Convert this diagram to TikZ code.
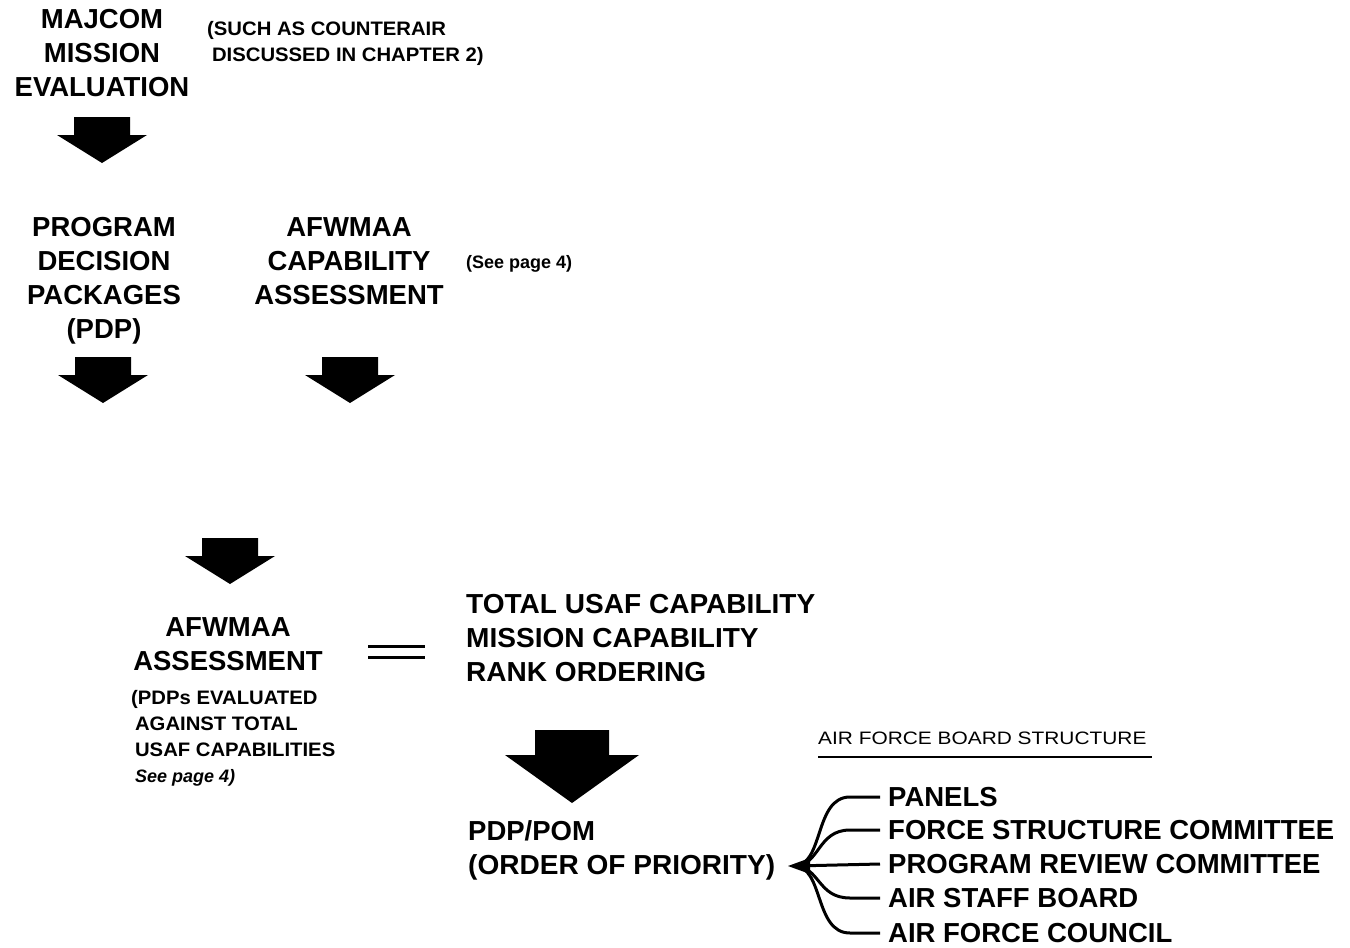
\documentclass[tikz,border=0pt]{standalone}
\usepackage{fontspec}
\setmainfont{Liberation Sans}
\begin{document}
\begin{tikzpicture}[x=1pt,y=-1pt,
  big/.style={font=\fontsize{27.5}{34}\selectfont\bfseries, inner sep=0pt, align=center, anchor=north},
  bigl/.style={big, align=left, anchor=north west},
  small/.style={font=\fontsize{19.5}{26}\selectfont\bfseries, inner sep=0pt, align=left, anchor=north west},
  note/.style={font=\fontsize{18}{22}\selectfont\bfseries, inner sep=0pt},
  item/.style={font=\fontsize{27.5}{34}\selectfont\bfseries, inner ysep=0pt, inner xsep=8pt, anchor=west},
  branch/.style={line width=3pt},
  blockarrow/.pic={\fill (-28,0) -- (28,0) -- (28,18) -- (45,18) -- (0,46) -- (-45,18) -- (-28,18) -- cycle;},
  bigblockarrow/.pic={\fill (-37,0) -- (37,0) -- (37,25) -- (67,25) -- (0,73) -- (-67,25) -- (-37,25) -- cycle;}
]
\useasboundingbox (0,0) rectangle (1350,948);

% top block
\node[big] (majcom) at (102,9) {MAJCOM\\MISSION\\EVALUATION};
\node[small] (such) at (207,21) {\scalebox{1.04}[1]{(SUCH AS COUNTERAIR}\\\hspace{0.25em}\scalebox{1.04}[1]{DISCUSSED IN CHAPTER 2)}};
\pic at (102,117) {blockarrow};

% second row
\node[big] (pdp) at (104,217) {PROGRAM\\DECISION\\PACKAGES\\(PDP)};
\node[big] (cap) at (349,217) {AFWMAA\\CAPABILITY\\ASSESSMENT};
\node[note, anchor=west] (see1) at (466,264) {(See page 4)};
\pic at (103,357) {blockarrow};
\pic at (350,357) {blockarrow};

% assessment
\pic at (230,538) {blockarrow};
\node[big] (assess) at (228,617) {AFWMAA\\ASSESSMENT};
\node[small] (eval) at (131,690) {\scalebox{1.04}[1]{(PDPs EVALUATED}\\\hspace{0.2em}\scalebox{1.04}[1]{AGAINST TOTAL}\\\hspace{0.2em}\scalebox{1.04}[1]{USAF CAPABILITIES}\\\hspace{0.2em}{\fontsize{18}{26}\selectfont\itshape See page 4)}};
\draw[line width=3pt] (368,646) -- (425,646) (368,657) -- (425,657);
\node[bigl] (total) at (466,594) {\scalebox{1.02}[1]{TOTAL USAF CAPABILITY}\\\scalebox{1.02}[1]{MISSION CAPABILITY}\\\scalebox{1.02}[1]{RANK ORDERING}};

% priority
\pic at (572,730) {bigblockarrow};
\node[bigl] (pom) at (468,820) {PDP/POM\\\scalebox{1.02}[1]{(ORDER OF PRIORITY)}};

% board structure
\node[font=\fontsize{18}{22}\selectfont, inner sep=0pt, anchor=west] (afbs) at (818,738) {\scalebox{1.16}[1]{AIR FORCE BOARD STRUCTURE}};
\draw[line width=2.5pt] (818,757) -- (1152,757);

\coordinate (hub) at (794,866);
\node[item] (i1) at (880,797) {PANELS};
\node[item] (i2) at (880,830) {FORCE STRUCTURE COMMITTEE};
\node[item] (i3) at (880,864) {PROGRAM REVIEW COMMITTEE};
\node[item] (i4) at (880,898) {AIR STAFF BOARD};
\node[item] (i5) at (880,933) {AIR FORCE COUNCIL};

\fill (788,866) -- (810,858) -- (810,874) -- cycle;
\draw[branch] (hub) .. controls (824,866) and (814,797) .. (850,797) -- (i1.west);
\draw[branch] (hub) .. controls (820,866) and (817,830) .. (850,830) -- (i2.west);
\draw[branch] (hub) -- (i3.west);
\draw[branch] (hub) .. controls (820,866) and (817,898) .. (850,898) -- (i4.west);
\draw[branch] (hub) .. controls (824,866) and (814,933) .. (850,933) -- (i5.west);
\end{tikzpicture}
\end{document}
